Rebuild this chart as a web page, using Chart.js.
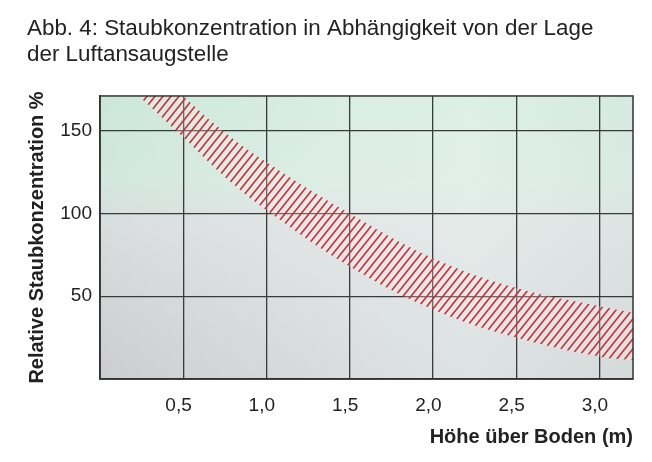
<!DOCTYPE html>
<html>
<head>
<meta charset="utf-8">
<script src="https://cdn.jsdelivr.net/npm/chart.js@4.4.1/dist/chart.umd.min.js"></script>
<style>
  html, body { margin: 0; padding: 0; background: #fff; }
  #wrap { width: 652px; height: 462px; }
</style>
</head>
<body>
<div id="wrap"><canvas id="chart" width="652" height="462"></canvas></div>
<script>
// Height above floor (m) and the band of relative dust concentration (%)
const heights = [0.2, 0.5, 0.75, 1.0, 1.5, 2.0, 2.5, 3.0, 3.2];
const upperBand = [200, 171, 149, 131, 100, 73, 55, 44, 40];
const lowerBand = [174, 146, 122, 102, 68, 42, 25, 13.5, 11.5];

const xTicks = [0, 0.5, 1.0, 1.5, 2.0, 2.5, 3.0];
const yTicks = [0, 50, 100, 150];

const titleLines = ["Abb. 4: Staubkonzentration in Abhängigkeit von der Lage", "der Luftansaugstelle"];
const xTitle = "Höhe über Boden (m)";
const yTitle = "Relative Staubkonzentration %";

Chart.defaults.font.family = "'Liberation Sans', Arial, sans-serif";
Chart.defaults.color = "#222";

// red diagonal hatching for the band
function hatchPattern() {
  const c = document.createElement("canvas");
  c.width = 8; c.height = 10;
  const g = c.getContext("2d");
  g.fillStyle = "rgba(255,245,245,0.25)";
  g.fillRect(0, 0, 8, 10);
  g.strokeStyle = "#cf2f38";
  g.lineWidth = 1.7;
  g.beginPath();
  g.moveTo(-1.6, 12); g.lineTo(9.6, -2);
  g.moveTo(-9.6, 12); g.lineTo(1.6, -2);
  g.moveTo(6.4, 12); g.lineTo(17.6, -2);
  g.stroke();
  return g.createPattern(c, "repeat");
}

// plot background and frame
const plotFrame = {
  id: "plotFrame",
  beforeDraw(chart) {
    const { ctx, chartArea: a } = chart;
    ctx.save();
    const v = ctx.createLinearGradient(0, a.top, 0, a.bottom);
    v.addColorStop(0, "#cbe7d9");
    v.addColorStop(0.3, "#d2e7dd");
    v.addColorStop(0.45, "#d8dddd");
    v.addColorStop(1, "#cbcdd0");
    ctx.fillStyle = v;
    ctx.fillRect(a.left, a.top, a.right - a.left, a.bottom - a.top);
    const h = ctx.createLinearGradient(a.left, 0, a.right, 0);
    h.addColorStop(0, "rgba(255,255,255,0)");
    h.addColorStop(0.7, "rgba(238,248,244,0.5)");
    h.addColorStop(1, "rgba(230,240,236,0.35)");
    ctx.fillStyle = h;
    ctx.fillRect(a.left, a.top, a.right - a.left, a.bottom - a.top);
    ctx.restore();
  },
  afterDraw(chart) {
    const { ctx, chartArea: a } = chart;
    ctx.save();
    ctx.strokeStyle = "#333";
    ctx.lineWidth = 1.5;
    ctx.strokeRect(a.left, a.top, a.right - a.left, a.bottom - a.top);
    ctx.restore();
  }
};

const ctx = document.getElementById("chart").getContext("2d");
new Chart(ctx, {
  type: "line",
  data: {
    datasets: [
      {
        data: heights.map((x, i) => ({ x: x, y: upperBand[i] })),
        borderWidth: 0,
        pointRadius: 0,
        tension: 0.4,
        fill: "+1",
        backgroundColor: hatchPattern()
      },
      {
        data: heights.map((x, i) => ({ x: x, y: lowerBand[i] })),
        borderWidth: 0,
        pointRadius: 0,
        tension: 0.4,
        fill: false
      }
    ]
  },
  options: {
    responsive: false,
    animation: false,
    layout: { padding: { left: 27, right: 19, top: 0, bottom: 13 } },
    plugins: {
      legend: { display: false },
      tooltip: { enabled: false },
      title: {
        display: true,
        text: titleLines,
        align: "start",
        color: "#222",
        font: { size: 22.4, weight: "normal", lineHeight: 1.16 },
        padding: { top: 16, bottom: 28 }
      }
    },
    scales: {
      x: {
        type: "linear",
        min: 0,
        max: 3.2,
        afterBuildTicks: s => { s.ticks = xTicks.map(v => ({ value: v })); },
        afterFit: s => { s.height = 70; },
        ticks: {
          padding: 15,
          font: { size: 19 },
          color: "#222",
          // trailing en space nudges the labels a little left of the grid line, as in the original
          callback: v => v === 0 ? "" : v.toFixed(1).replace(".", ",") + "\u2002"
        },
        grid: { color: "#3a3a3a", lineWidth: 1.3, drawTicks: false },
        border: { color: "#333", width: 1.5 },
        title: {
          display: true,
          text: xTitle,
          align: "end",
          font: { size: 20, weight: "bold" },
          color: "#222",
          padding: { top: 0, bottom: 0 }
        }
      },
      y: {
        min: 0,
        max: 171,
        afterBuildTicks: s => { s.ticks = yTicks.map(v => ({ value: v })); },
        afterFit: s => { s.width = 73; },
        ticks: {
          padding: 8,
          font: { size: 19 },
          color: "#222",
          callback: v => v === 0 ? "" : String(v)
        },
        grid: { color: "#3a3a3a", lineWidth: 1.3, drawTicks: false },
        border: { color: "#333", width: 1.5 },
        title: {
          display: true,
          text: yTitle,
          font: { size: 20, weight: "bold", lineHeight: 1.0 },
          color: "#222",
          padding: { top: 0, bottom: 0 }
        }
      }
    }
  },
  plugins: [plotFrame]
});
</script>
</body>
</html>
